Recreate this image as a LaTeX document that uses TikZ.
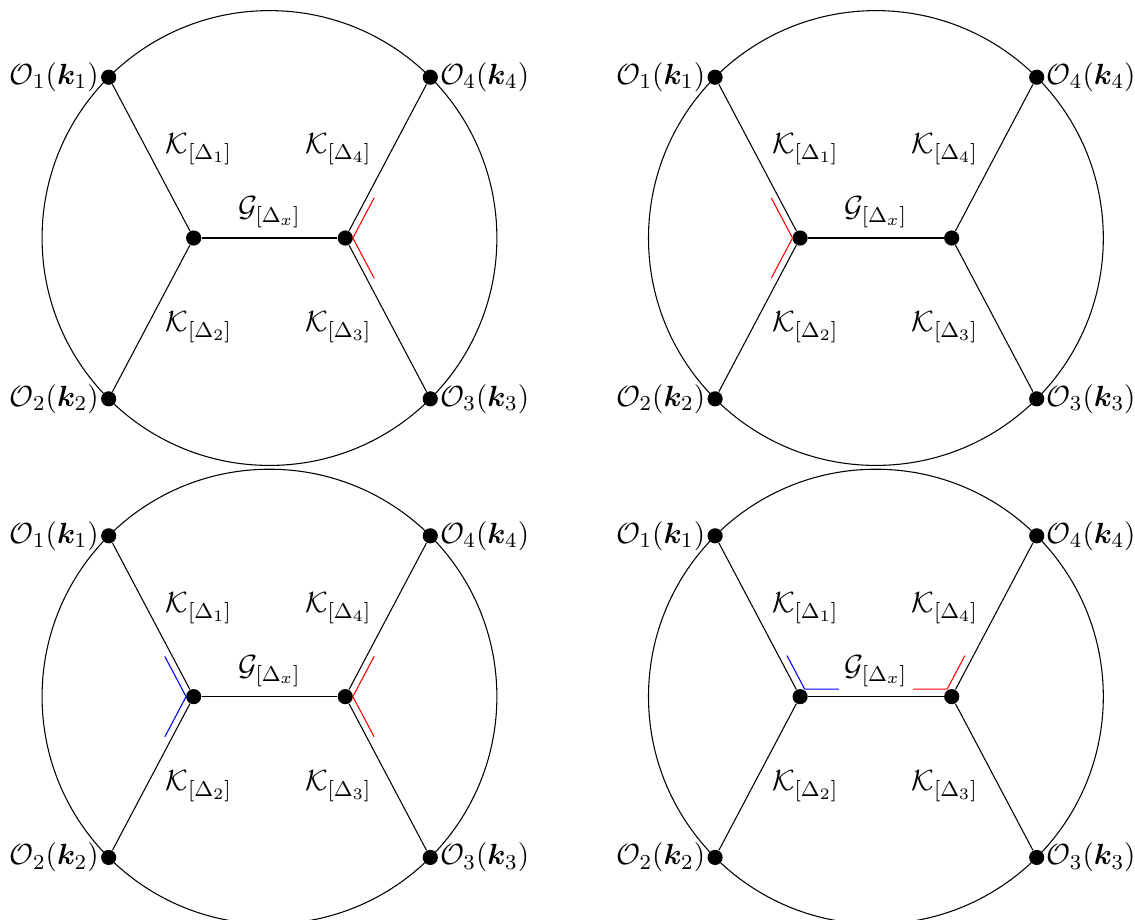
\documentclass[11pt,tikz,border=0pt]{standalone}
\usepackage{amsmath,amsfonts,amssymb,bm}
\usetikzlibrary{calc}

\tikzset{
  dot/.style={circle,fill=black,inner sep=0pt,minimum size=0.2cm},
  tag/.style={inner sep=0.5pt}
}

\begin{document}
\begin{tikzpicture}

% Fix the margins of the page
\useasboundingbox (-3.555,-8.984) rectangle (11.418,3.14);

% Draw the four panels (circle, vertices, edges, labels)
\foreach \p/\x/\y in {A/0/0, B/8/0, C/0/-6.05, D/8/-6.05} {
\begin{scope}[shift={(\x,\y)}]
  \coordinate (\p c) at (0,0);
  \draw (\p c) circle (3);

  % outer vertices on the circle
  \node[dot,label={[tag]left:$\mathcal{O}_1(\bm{k}_1)$}] (\p o1) at (135:3) {};
  \node[dot,label={[tag]left:$\mathcal{O}_2(\bm{k}_2)$}] (\p o2) at (225:3) {};
  \node[dot,label={[tag]right:$\mathcal{O}_3(\bm{k}_3)$}] (\p o3) at (-45:3) {};
  \node[dot,label={[tag]right:$\mathcal{O}_4(\bm{k}_4)$}] (\p o4) at (45:3) {};

  % inner vertices
  \node[dot] (\p l) at (-1,0) {};
  \node[dot] (\p r) at (1,0) {};

  % edges
  \draw (\p l) -- (\p o1);
  \draw (\p l) -- (\p o2);
  \draw (\p r) -- (\p o3);
  \draw (\p r) -- (\p o4);
  \draw (\p l) -- node[above] (\p g) {$\mathcal{G}_{[\Delta_x]}$} (\p r);

  % propagator labels
  \node (\p k1) at (-0.93,1.17) {$\mathcal{K}_{[\Delta_1]}$};
  \node (\p k4) at (0.91,1.17) {$\mathcal{K}_{[\Delta_4]}$};
  \node (\p k2) at (-0.93,-1.18) {$\mathcal{K}_{[\Delta_2]}$};
  \node (\p k3) at (0.91,-1.18) {$\mathcal{K}_{[\Delta_3]}$};
\end{scope}
}

% Panel A: red marks at the right vertex
\draw[red] ($(Ar)+(0.1,0)+(62.1:0.6)$) -- ($(Ar)+(0.1,0)$) -- ++(-62.1:0.6);

% Panel B: red marks at the left vertex
\draw[red] ($(Bl)+(-0.1,0)+(117.9:0.6)$) -- ($(Bl)+(-0.1,0)$) -- ++(242.1:0.6);

% Panel C: blue on the left, red on the right
\draw[blue] ($(Cl)+(-0.1,0)+(117.9:0.6)$) -- ($(Cl)+(-0.1,0)$) -- ++(242.1:0.6);
\draw[red] ($(Cr)+(0.1,0)+(62.1:0.6)$) -- ($(Cr)+(0.1,0)$) -- ++(-62.1:0.6);

% Panel D: corners between the upper edges and the middle edge
\draw[blue] ($(Dl)+(0.06,0.1)+(117.9:0.5)$) -- ($(Dl)+(0.06,0.1)$) -- ++(0.45,0);
\draw[red] ($(Dr)+(-0.06,0.1)+(62.1:0.5)$) -- ($(Dr)+(-0.06,0.1)$) -- ++(-0.45,0);

\end{tikzpicture}
\end{document}
